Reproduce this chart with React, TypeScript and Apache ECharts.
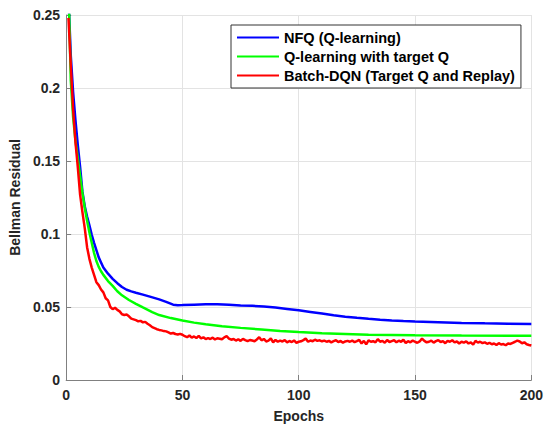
import React, { useEffect, useRef } from "react";
import * as echarts from "echarts";

const xTicks = [0, 50, 100, 150, 200];
const yTicks = [0, 0.05, 0.1, 0.15, 0.2, 0.25];

const seriesNames = [
  "NFQ (Q-learning)",
  "Q-learning with target Q",
  "Batch-DQN (Target Q and Replay)",
];

const blueEpochs = [1, 2, 3, 4, 5, 6, 7, 8, 9, 10, 11, 12, 13, 14, 15, 16, 18, 20, 22, 24, 26, 28, 30, 33, 36, 40, 43, 46, 48, 50, 55, 60, 65, 70, 75, 80, 85, 90, 95, 100, 105, 110, 115, 120, 125, 130, 135, 140, 145, 150, 160, 170, 180, 190, 200];
const blueValues = [0.262, 0.222, 0.197, 0.178, 0.161, 0.146, 0.129, 0.119, 0.112, 0.106, 0.0995, 0.094, 0.089, 0.084, 0.0805, 0.077, 0.0728, 0.0693, 0.0663, 0.0637, 0.0618, 0.0607, 0.0598, 0.0585, 0.0571, 0.0552, 0.0535, 0.0516, 0.0512, 0.0513, 0.0516, 0.0518, 0.0518, 0.0515, 0.0511, 0.0508, 0.0503, 0.0496, 0.0487, 0.0477, 0.0466, 0.0455, 0.0443, 0.0434, 0.0426, 0.0419, 0.0413, 0.0408, 0.0404, 0.0401, 0.0396, 0.0391, 0.0388, 0.0386, 0.0384];

const greenEpochs = [1, 2, 3, 4, 5, 6, 7, 8, 9, 10, 11, 12, 13, 14, 15, 16, 18, 20, 22, 24, 27, 30, 33, 37, 40, 45, 50, 55, 60, 67, 75, 84, 92, 100, 110, 120, 130, 140, 150, 170, 200];
const greenValues = [0.27, 0.205, 0.18, 0.164, 0.152, 0.14, 0.128, 0.118, 0.109, 0.101, 0.094, 0.087, 0.0815, 0.0775, 0.0745, 0.072, 0.0678, 0.0645, 0.0608, 0.0580, 0.0548, 0.0522, 0.0497, 0.0465, 0.0445, 0.0424, 0.0407, 0.0393, 0.0382, 0.0368, 0.0357, 0.0346, 0.0336, 0.0328, 0.032, 0.0315, 0.031, 0.0308, 0.0306, 0.0304, 0.0303];

// Batch-DQN values for epochs 1..200
const redValues = [
  0.248, 0.215, 0.185, 0.163, 0.146, 0.127, 0.115, 0.104, 0.091, 0.083,
  0.077, 0.072, 0.067, 0.065, 0.062, 0.060, 0.056, 0.0545, 0.050, 0.0485,
  0.0495, 0.048, 0.047, 0.045, 0.0445, 0.0448, 0.0436, 0.042, 0.0415, 0.041,
  0.0402, 0.0405, 0.0395, 0.0398, 0.0385, 0.0375, 0.0362, 0.0355, 0.0348, 0.0343,
  0.034, 0.0335, 0.0333, 0.0326, 0.0318, 0.0322, 0.0315, 0.0312, 0.0316, 0.031,
  0.0300, 0.0293, 0.0305, 0.0290, 0.0298, 0.0288, 0.0302, 0.0285, 0.0292, 0.0280,
  0.0287, 0.0281, 0.0290, 0.0278, 0.0286, 0.0283, 0.0279, 0.0292, 0.0300, 0.0284,
  0.0276, 0.0281, 0.0270, 0.0279, 0.0268, 0.0282, 0.0273, 0.0266, 0.0274, 0.0270,
  0.0266, 0.0278, 0.0293, 0.0272, 0.0281, 0.0264, 0.0270, 0.0285, 0.0258, 0.0275,
  0.0262, 0.0270, 0.0264, 0.0273, 0.0258, 0.0267, 0.0260, 0.0271, 0.0255, 0.0262,
  0.0265, 0.0273, 0.0284, 0.0262, 0.0270, 0.0266, 0.0276, 0.0268, 0.0272, 0.0265,
  0.0270, 0.0262, 0.0268, 0.0258, 0.0266, 0.0272, 0.0260, 0.0267, 0.0255, 0.0264,
  0.0268, 0.0262, 0.0270, 0.0259, 0.0266, 0.0275, 0.0250, 0.0268, 0.0244, 0.0272,
  0.0262, 0.0266, 0.0258, 0.0280, 0.0262, 0.0268, 0.0255, 0.0274, 0.0260, 0.0266,
  0.0272, 0.0258, 0.0269, 0.0262, 0.0276, 0.0253, 0.0266, 0.0258, 0.0270, 0.0262,
  0.0255, 0.0264, 0.0284, 0.0268, 0.0258, 0.0262, 0.0270, 0.0256, 0.0266, 0.0273,
  0.0260, 0.0266, 0.0252, 0.0268, 0.0262, 0.0272, 0.0258, 0.0264, 0.0250, 0.0262,
  0.0256, 0.0265, 0.0250, 0.0258, 0.0242, 0.0268, 0.0256, 0.0262, 0.0253, 0.0258,
  0.0248, 0.0255, 0.0245, 0.0250, 0.0240, 0.0252, 0.0243, 0.0246, 0.0238, 0.0250,
  0.0247, 0.0255, 0.0262, 0.0270, 0.0264, 0.0252, 0.0258, 0.0245, 0.0240, 0.0236,
];

const colors = ["#0000ff", "#00ff00", "#ff0000"];
const FONT = "'Liberation Sans', Arial, sans-serif";

export default function App() {
  const ref = useRef<HTMLDivElement>(null);
  useEffect(() => {
    if (!ref.current) return;
    const chart = echarts.init(ref.current, undefined, { renderer: "svg" });
    const blueData = blueEpochs.map((e, i) => [e, blueValues[i]]);
    const greenData = greenEpochs.map((e, i) => [e, greenValues[i]]);
    const redData = redValues.map((v, i) => [i + 1, v]);
    const fmt = (v: number) => String(Math.round(v * 1000) / 1000);
    chart.setOption({
      animation: false,
      backgroundColor: "#ffffff",
      textStyle: { fontFamily: FONT },
      grid: { left: 63, right: 14, top: 15, bottom: 42, containLabel: false },
      legend: {
        orient: "vertical",
        left: 231,
        top: 25,
        padding: [5, 6, 5, 5],
        itemWidth: 42,
        itemHeight: 14,
        itemGap: 4,
        backgroundColor: "#ffffff",
        borderColor: "#333333",
        borderWidth: 1,
        borderRadius: 0,
        itemStyle: { opacity: 0 },
        lineStyle: { width: 2 },
        textStyle: { fontFamily: FONT, fontSize: 14.5, fontWeight: "bold", color: "#000000" },
        data: seriesNames,
      },
      xAxis: {
        type: "value",
        min: xTicks[0],
        max: xTicks[xTicks.length - 1],
        interval: 50,
        name: "Epochs",
        nameLocation: "middle",
        nameGap: 29,
        nameTextStyle: { fontFamily: FONT, fontSize: 14, fontWeight: "bold", color: "#262626" },
        axisLine: { lineStyle: { color: "#808080", width: 1 } },
        axisTick: { inside: true, length: 5, lineStyle: { color: "#808080" } },
        axisLabel: { margin: 8, fontFamily: FONT, fontSize: 14, fontWeight: "bold", color: "#262626" },
        splitLine: { show: true, lineStyle: { color: "#e3e3e3", width: 1 } },
      },
      yAxis: {
        type: "value",
        min: yTicks[0],
        max: yTicks[yTicks.length - 1],
        interval: 0.05,
        name: "Bellman Residual",
        nameLocation: "middle",
        nameGap: 41,
        nameTextStyle: { fontFamily: FONT, fontSize: 14, fontWeight: "bold", color: "#262626" },
        axisLine: { show: true, lineStyle: { color: "#808080", width: 1 } },
        axisTick: { show: true, inside: true, length: 5, lineStyle: { color: "#808080" } },
        axisLabel: { margin: 6, fontFamily: FONT, fontSize: 14, fontWeight: "bold", color: "#262626", formatter: fmt },
        splitLine: { show: true, lineStyle: { color: "#e3e3e3", width: 1 } },
      },
      series: [
        { name: seriesNames[0], type: "line", data: blueData, symbol: "none", lineStyle: { color: colors[0], width: 2.5 }, itemStyle: { color: colors[0] }, z: 3 },
        { name: seriesNames[1], type: "line", data: greenData, symbol: "none", lineStyle: { color: colors[1], width: 2.5 }, itemStyle: { color: colors[1] }, z: 4 },
        { name: seriesNames[2], type: "line", data: redData, symbol: "none", lineStyle: { color: colors[2], width: 2.5 }, itemStyle: { color: colors[2] }, z: 5 },
      ],
    });
    return () => chart.dispose();
  }, []);
  return <div ref={ref} style={{ width: 546, height: 428, position: "absolute", left: 0, top: 0 }} />;
}
